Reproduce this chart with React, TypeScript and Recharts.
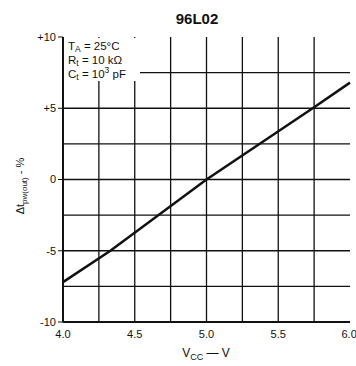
import { LineChart, Line, XAxis, YAxis, CartesianGrid, Customized } from "recharts"

const vcc = [4.0, 4.33, 5.0, 5.74, 6.0]
const deltaPw = [-7.2, -5, 0, 5, 6.8]
const xTicks = [4.0, 4.5, 5.0, 5.5, 6.0]
const yTicks = [-10, -5, 0, 5, 10]
const xGrid = [4.25, 4.5, 4.75, 5.0, 5.25, 5.5, 5.75]
const yGrid = [-7.5, -5, -2.5, 0, 2.5, 5, 7.5]

const data = vcc.map((v, i) => ({ vcc: v, dpw: deltaPw[i] }))

const font = "'Liberation Sans', Arial, sans-serif"

function Conditions() {
  return (
    <g fontFamily={font} fontSize={11.5} fill="#111">
      <rect x={64} y={38} width={76} height={43} fill="#fff" />
      <text x={68} y={50}>
        T<tspan fontSize={8.5} dy={2}>A</tspan>
        <tspan dy={-2}> = 25°C</tspan>
      </text>
      <text x={68} y={64}>
        R<tspan fontSize={8.5} dy={2}>t</tspan>
        <tspan dy={-2}> = 10 kΩ</tspan>
      </text>
      <text x={68} y={78}>
        C<tspan fontSize={8.5} dy={2}>t</tspan>
        <tspan dy={-2}> = 10</tspan>
        <tspan fontSize={8.5} dy={-5}>3</tspan>
        <tspan dy={5}> pF</tspan>
      </text>
    </g>
  )
}

function Labels() {
  return (
    <g fontFamily={font} fill="#111">
      <text x={197} y={24} textAnchor="middle" fontSize={15} fontWeight="bold">
        96L02
      </text>
      <text x={206} y={357} textAnchor="middle" fontSize={12}>
        V<tspan fontSize={9} dy={3}>CC</tspan>
        <tspan dy={-3}> — V</tspan>
      </text>
      <text
        transform="translate(24,186) rotate(-90)"
        textAnchor="middle"
        fontSize={11}
      >
        Δt<tspan fontSize={8} dy={3}>pw(out)</tspan>
        <tspan dy={-3}> - %</tspan>
      </text>
    </g>
  )
}

export default function App() {
  return (
    <div style={{ position: "absolute", left: 0, top: 0, background: "#fff" }}>
      <LineChart
        width={356}
        height={366}
        data={data}
        margin={{ top: 37, right: 6, left: 33, bottom: 24 }}
      >
        <CartesianGrid
          stroke="#111"
          strokeWidth={1.3}
          horizontalValues={yGrid}
          verticalValues={xGrid}
        />
        <XAxis
          dataKey="vcc"
          type="number"
          domain={[4, 6]}
          ticks={xTicks}
          tickFormatter={(v) => v.toFixed(1)}
          tick={{ fill: "#111", fontSize: 11, fontFamily: font }}
          tickLine={false}
          axisLine={{ stroke: "#111", strokeWidth: 2 }}
          tickMargin={2}
          height={20}
        />
        <YAxis
          type="number"
          domain={[-10, 10]}
          ticks={yTicks}
          tickFormatter={(v) => (v > 0 ? `+${v}` : `${v}`)}
          tick={{ fill: "#111", fontSize: 11, fontFamily: font }}
          tickLine={{ stroke: "#111" }}
          tickSize={5}
          tickMargin={2}
          axisLine={{ stroke: "#111", strokeWidth: 2 }}
          width={30}
        />
        <XAxis xAxisId="top" orientation="top" type="number" domain={[4, 6]} tick={false} axisLine={{ stroke: "#111", strokeWidth: 2 }} height={0} />
        <YAxis yAxisId="right" orientation="right" type="number" domain={[-10, 10]} tick={false} axisLine={{ stroke: "#111", strokeWidth: 2 }} width={0} />
        <Customized component={Conditions} />
        <Line
          dataKey="dpw"
          type="linear"
          stroke="#111"
          strokeWidth={2.5}
          dot={false}
          isAnimationActive={false}
        />
        <Customized component={Labels} />
      </LineChart>
    </div>
  )
}
